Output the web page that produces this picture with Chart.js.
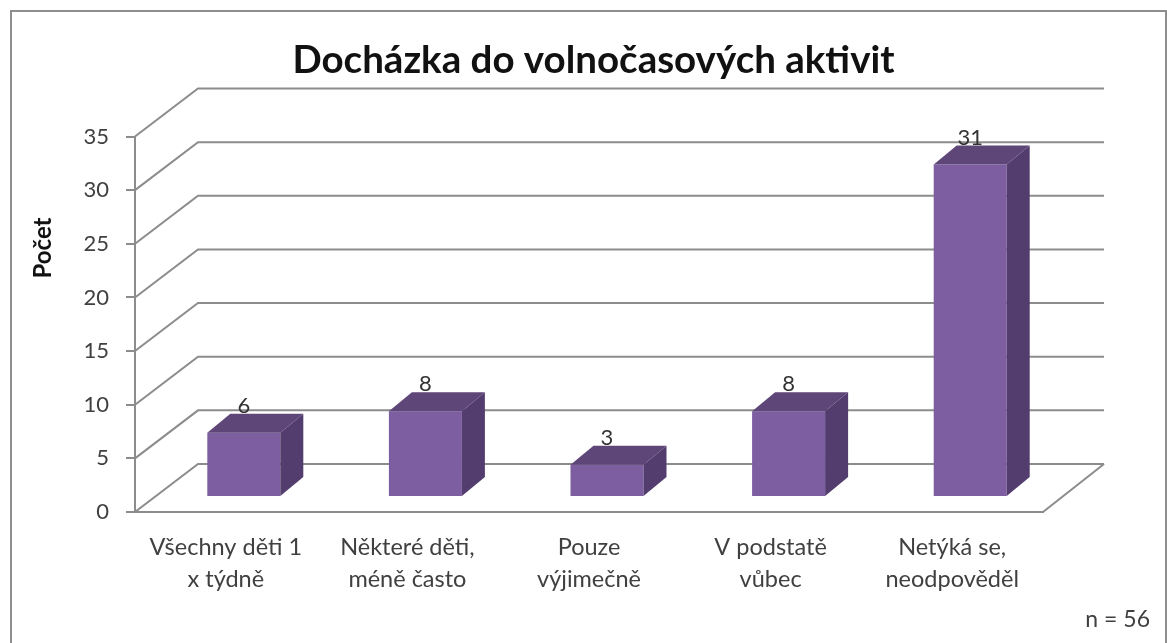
<!DOCTYPE html>
<html><head><meta charset="utf-8">
<style>html,body{margin:0;padding:0;background:#fff}canvas{display:block}</style>
<script src="https://cdn.jsdelivr.net/npm/chart.js@4/dist/chart.umd.min.js"></script>
</head><body>
<div style="width:1167px;height:643px;position:relative"><canvas id="c" width="1167" height="643"></canvas></div>
<script>
const categories=[['Všechny děti 1','x týdně'],['Některé děti,','méně často'],['Pouze','výjimečně'],['V podstatě','vůbec'],['Netýká se,','neodpověděl']];
const values=[6,8,3,8,31];
const titleText='Docházka do volnočasových aktivit';
const yAxisTitle='Počet';
const note='n = 56';
const FONT='Lato, Carlito, sans-serif';
const TEXT='#404040', LINE='#8c8c8c';
const FRONT='#7d5ea1', TOP='#5f4679', SIDE='#523d6e';
const wall={dx:63,dy:-48,rightX:1104};
const barShift={dx:18,dy:-15};
const depth={dx:23,dy:-19};

const threeD={
  id:'threeD',
  beforeDraw(chart){
    const c=chart.ctx;
    c.save();
    c.fillStyle='#fff';c.fillRect(0,0,chart.width,chart.height);
    c.strokeStyle='#8e8e8e';c.lineWidth=2;
    c.beginPath();c.moveTo(11,643);c.lineTo(11,11);c.lineTo(1166,11);c.lineTo(1166,643);c.stroke();
    c.restore();
  },
  beforeDatasetsDraw(chart){
    const c=chart.ctx,y=chart.scales.y,a=chart.chartArea;
    c.save();
    c.strokeStyle=LINE;c.lineWidth=2;
    y.ticks.forEach(t=>{
      const py=y.getPixelForValue(t.value);
      c.beginPath();c.moveTo(a.left,py);c.lineTo(a.left+wall.dx,py+wall.dy);c.lineTo(wall.rightX,py+wall.dy);c.stroke();
    });
    const by=y.getPixelForValue(0);
    c.beginPath();c.moveTo(a.right,by);c.lineTo(wall.rightX,by+wall.dy);c.stroke();
    c.restore();
    c.save();
    c.translate(barShift.dx,barShift.dy);
  },
  afterDatasetsDraw(chart){
    const c=chart.ctx;
    chart.getDatasetMeta(0).data.forEach(b=>{
      const l=b.x-b.width/2,r=b.x+b.width/2,t=b.y,bot=b.base;
      c.fillStyle=TOP;c.beginPath();
      c.moveTo(l,t);c.lineTo(l+depth.dx,t+depth.dy);c.lineTo(r+depth.dx,t+depth.dy);c.lineTo(r,t);c.closePath();c.fill();
      c.fillStyle=SIDE;c.beginPath();
      c.moveTo(r,t);c.lineTo(r+depth.dx,t+depth.dy);c.lineTo(r+depth.dx,bot+depth.dy);c.lineTo(r,bot);c.closePath();c.fill();
    });
    c.restore();
  },
  afterDraw(chart){
    const c=chart.ctx;
    c.save();
    c.fillStyle='#333';c.font='22px '+FONT;c.textAlign='center';c.textBaseline='middle';
    chart.getDatasetMeta(0).data.forEach((b,i)=>{
      c.fillText(String(values[i]),b.x+barShift.dx,b.y+barShift.dy-27);
    });
    c.fillStyle=TEXT;c.font='23px '+FONT;c.textAlign='right';
    c.fillText(note,1150,620);
    c.translate(43,248);c.rotate(-Math.PI/2);
    c.fillStyle='#111';c.font='bold 24px '+FONT;c.textAlign='center';
    c.fillText(yAxisTitle,0,0);
    c.restore();
  }
};

new Chart(document.getElementById('c'),{
  type:'bar',
  data:{labels:categories,datasets:[{data:values,backgroundColor:FRONT,borderWidth:0,barPercentage:0.402,categoryPercentage:1,clip:false}]},
  plugins:[threeD],
  options:{
    responsive:false,animation:false,
    layout:{padding:{left:20,right:0,top:0,bottom:0}},
    plugins:{
      legend:{display:false},tooltip:{enabled:false},
      title:{display:true,text:titleText,color:'#111',font:{family:FONT,size:38.5,weight:'bold',lineHeight:1.2},padding:{top:37,bottom:53.3}}
    },
    scales:{
      x:{
        afterFit(s){s.height=131},
        grid:{display:false},
        border:{display:true,color:LINE,width:2},
        ticks:{color:TEXT,font:{family:FONT,size:23.5,lineHeight:1.36},padding:11,maxRotation:0,minRotation:0,autoSkip:false}
      },
      y:{
        min:0,max:35,
        afterFit(s){s.width=115},
        grid:{drawOnChartArea:false,drawTicks:true,tickLength:9,color:LINE,lineWidth:2},
        border:{display:true,color:LINE,width:2},
        ticks:{stepSize:5,color:TEXT,font:{family:FONT,size:22},padding:17}
      },
      spacer:{
        position:'right',display:true,
        afterFit(s){s.width=124},
        grid:{display:false},border:{display:false},ticks:{display:false}
      }
    }
  }
});
</script>
</body></html>
